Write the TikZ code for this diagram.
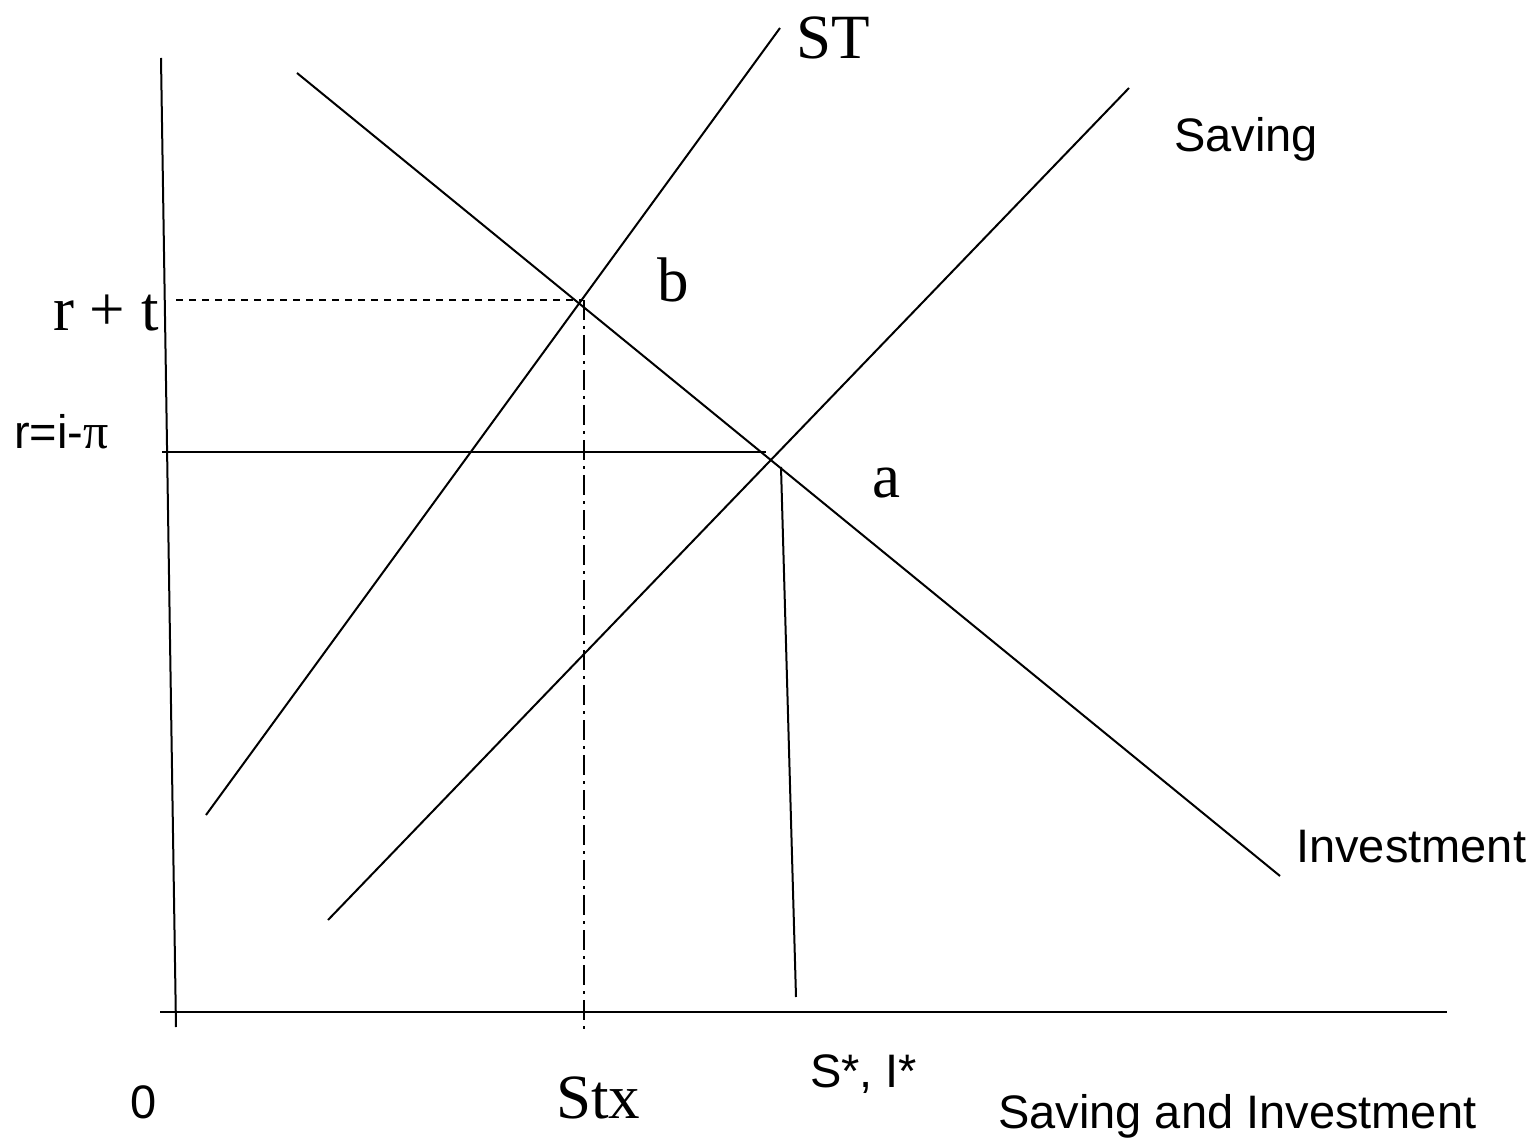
\documentclass[tikz,border=0pt]{standalone}
\usepackage{fontspec}
\setmainfont{Liberation Serif}
\setsansfont{Liberation Sans}
\begin{document}
\begin{tikzpicture}[x=1pt,y=-1pt,
  ln/.style={line width=2pt,line cap=butt},
  guide/.style={line width=1.8pt,dash pattern=on 7pt off 6pt},
  dashdot/.style={line width=1.8pt,dash pattern=on 20pt off 6pt on 3pt off 6pt},
  big/.style={inner sep=0pt,anchor=base west,font=\fontsize{63}{70}\selectfont\rmfamily},
  small/.style={inner sep=0pt,anchor=base west,font=\fontsize{47}{54}\selectfont\sffamily}]
\useasboundingbox (0,0) rectangle (1537,1139);
% axes
\coordinate (ytop) at (161,58);
\coordinate (ybot) at (176,1027);
\coordinate (xl) at (160,1012);
\coordinate (xr) at (1447,1012);
\draw[ln] (ytop) -- (ybot);
\draw[ln] (xl) -- (xr);
% curves
\coordinate (inv1) at (297,73);
\coordinate (inv2) at (1280,876);
\coordinate (st1) at (206,815);
\coordinate (st2) at (780,28);
\coordinate (sv1) at (328,920);
\coordinate (sv2) at (1129,88);
\draw[ln] (inv1) -- (inv2);
\draw[ln] (st1) -- (st2);
\draw[ln] (sv1) -- (sv2);
% equilibrium guides
\coordinate (rl) at (162,452);
\coordinate (rr) at (766,452);
\draw[ln] (rl) -- (rr);
\coordinate (a1) at (781,467);
\coordinate (a2) at (796,997);
\draw[ln] (a1) -- (a2);
\coordinate (dl) at (176,300);
\coordinate (dr) at (583,300);
\draw[guide] (dl) -- (dr);
\coordinate (vt) at (584,300);
\coordinate (vb) at (584,1035);
\draw[dashdot] (vt) -- (vb);
% labels
\node[big] (lST) at (796,59) {ST};
\node[big] (lb) at (657,302) {b};
\node[big] (la) at (872,497) {a};
\node[big] (lrt) at (53,331) {r + t};
\node[big] (lStx) at (556,1118) {Stx};
\node[small] (lSaving) at (1174,152) {Saving};
\node[small] (lInv) at (1296,862) {Investment};
\node[small] (lr) at (14,448) {r=i-{\rmfamily\fontsize{50}{54}\selectfont π}};
\node[small] (l0) at (130,1118) {0};
\node[small] (lSI) at (810,1087) {S*, I*};
\node[small] (lSaI) at (998,1128) {Saving and Investment};
\end{tikzpicture}
\end{document}
